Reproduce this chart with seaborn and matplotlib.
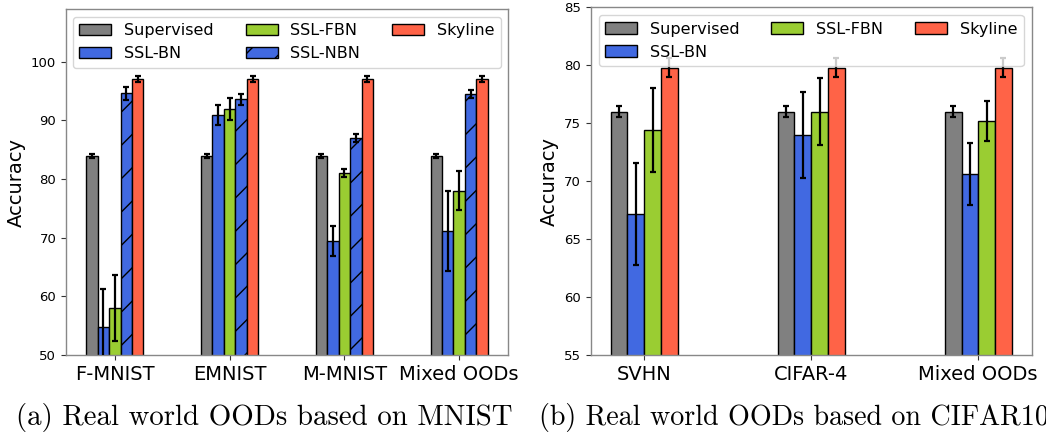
import matplotlib
matplotlib.use("Agg")
import matplotlib.pyplot as plt
import pandas as pd
import seaborn as sns
from matplotlib.patches import Patch

# ---- MNIST-based OOD benchmarks ----
mnist_groups = ["F-MNIST", "EMNIST", "M-MNIST", "Mixed OODs"]
mnist_methods = ["Supervised", "SSL-BN", "SSL-FBN", "SSL-NBN", "Skyline"]
mnist_supervised = [84.0, 84.0, 84.0, 84.0]
mnist_supervised_err = [0.35, 0.35, 0.35, 0.35]
mnist_ssl_bn = [54.8, 90.9, 69.4, 71.1]
mnist_ssl_bn_err = [6.4, 1.75, 2.6, 6.8]
mnist_ssl_fbn = [58.0, 92.0, 81.1, 78.0]
mnist_ssl_fbn_err = [5.6, 1.85, 0.7, 3.3]
mnist_ssl_nbn = [94.6, 93.6, 87.0, 94.5]
mnist_ssl_nbn_err = [1.1, 0.9, 0.6, 0.65]
mnist_skyline = [97.0, 97.0, 97.0, 97.0]
mnist_skyline_err = [0.5, 0.5, 0.5, 0.5]

# ---- CIFAR10-based OOD benchmarks ----
cifar_groups = ["SVHN", "CIFAR-4", "Mixed OODs"]
cifar_methods = ["Supervised", "SSL-BN", "SSL-FBN", "Skyline"]
cifar_supervised = [76.0, 76.0, 76.0]
cifar_supervised_err = [0.5, 0.5, 0.5]
cifar_ssl_bn = [67.2, 74.0, 70.6]
cifar_ssl_bn_err = [4.4, 3.7, 2.7]
cifar_ssl_fbn = [74.4, 76.0, 75.2]
cifar_ssl_fbn_err = [3.6, 2.9, 1.7]
cifar_skyline = [79.8, 79.8, 79.8]
cifar_skyline_err = [0.8, 0.8, 0.8]

colors = {
    "Supervised": "#808080",
    "SSL-BN": "#4169E1",
    "SSL-FBN": "#9ACD32",
    "SSL-NBN": "#4169E1",
    "Skyline": "#FF6347",
}
hatches = {"SSL-NBN": "/"}

sns.set_style("ticks")
plt.rcParams.update({
    "font.family": ["DejaVu Sans"],
    "text.color": "black",
    "axes.labelcolor": "black",
    "axes.edgecolor": "#888888",
    "axes.linewidth": 1.0,
    "xtick.color": "#333333",
    "ytick.color": "#333333",
    "xtick.labelcolor": "black",
    "ytick.labelcolor": "black",
    "xtick.major.size": 3.5,
    "ytick.major.size": 3.5,
    "xtick.major.width": 0.8,
    "ytick.major.width": 0.8,
    "hatch.linewidth": 1.0,
    "hatch.color": "black",
})


def draw_panel(ax, groups, methods, values, errors, width, xlim, ylim, yticks):
    rows = []
    for m in methods:
        for g, v in zip(groups, values[m]):
            rows.append({"group": g, "method": m, "acc": v})
    df = pd.DataFrame(rows)
    sns.barplot(data=df, x="group", y="acc", hue="method",
                order=groups, hue_order=methods, palette=colors,
                saturation=1, width=width, dodge=True, errorbar=None,
                edgecolor="black", linewidth=1.0, legend=False, ax=ax)

    for container, m in zip(ax.containers, methods):
        xs, ys, es = [], [], []
        for bar in container:
            xc = bar.get_x() + bar.get_width() / 2
            idx = int(round(xc))
            xs.append(xc)
            ys.append(bar.get_height())
            es.append(errors[m][idx])
            if m in hatches:
                bar.set_hatch(hatches[m])
        ax.errorbar(xs, ys, yerr=es, fmt="none", ecolor="black",
                    elinewidth=1.6, capsize=2, capthick=1.6, zorder=3)

    ax.set_xlim(*xlim)
    ax.set_ylim(*ylim)
    ax.set_yticks(yticks)
    ax.set_xlabel("")
    ax.set_ylabel("Accuracy", fontsize=14)
    ax.tick_params(axis="x", labelsize=14)
    ax.tick_params(axis="y", labelsize=9.5)
    for s in ax.spines.values():
        s.set_visible(True)
        s.set_color("#888888")

    handles = [Patch(facecolor=colors[m], edgecolor="black", linewidth=1.0,
                     hatch=hatches.get(m, ""), label=m) for m in methods]
    ax.legend(handles=handles, ncol=3, loc="upper center", fontsize=11.5,
              frameon=True, framealpha=0.8, edgecolor="0.8", fancybox=True)


fig = plt.figure(figsize=(10.46, 4.34), dpi=100)
W, H = 1046, 434
ax1 = fig.add_axes([66 / W, 79 / H, 442 / W, 346 / H])
ax2 = fig.add_axes([590.7 / W, 79 / H, 441 / W, 347.7 / H])

draw_panel(
    ax1, mnist_groups, mnist_methods,
    {"Supervised": mnist_supervised, "SSL-BN": mnist_ssl_bn,
     "SSL-FBN": mnist_ssl_fbn, "SSL-NBN": mnist_ssl_nbn,
     "Skyline": mnist_skyline},
    {"Supervised": mnist_supervised_err, "SSL-BN": mnist_ssl_bn_err,
     "SSL-FBN": mnist_ssl_fbn_err, "SSL-NBN": mnist_ssl_nbn_err,
     "Skyline": mnist_skyline_err},
    width=0.5, xlim=(-0.425, 3.425), ylim=(50, 109),
    yticks=[50, 60, 70, 80, 90, 100],
)

draw_panel(
    ax2, cifar_groups, cifar_methods,
    {"Supervised": cifar_supervised, "SSL-BN": cifar_ssl_bn,
     "SSL-FBN": cifar_ssl_fbn, "Skyline": cifar_skyline},
    {"Supervised": cifar_supervised_err, "SSL-BN": cifar_ssl_bn_err,
     "SSL-FBN": cifar_ssl_fbn_err, "Skyline": cifar_skyline_err},
    width=0.4, xlim=(-0.32, 2.32), ylim=(55, 85),
    yticks=[55, 60, 65, 70, 75, 80, 85],
)

fig.text(16 / W, 9 / H, "(a) Real world OODs based on MNIST",
         fontfamily="cmr10", fontsize=20.8, va="baseline", ha="left")
fig.text(539 / W, 9 / H, "(b) Real world OODs based on CIFAR10",
         fontfamily="cmr10", fontsize=20.2, va="baseline", ha="left")

fig.savefig("out.png", dpi=100)
